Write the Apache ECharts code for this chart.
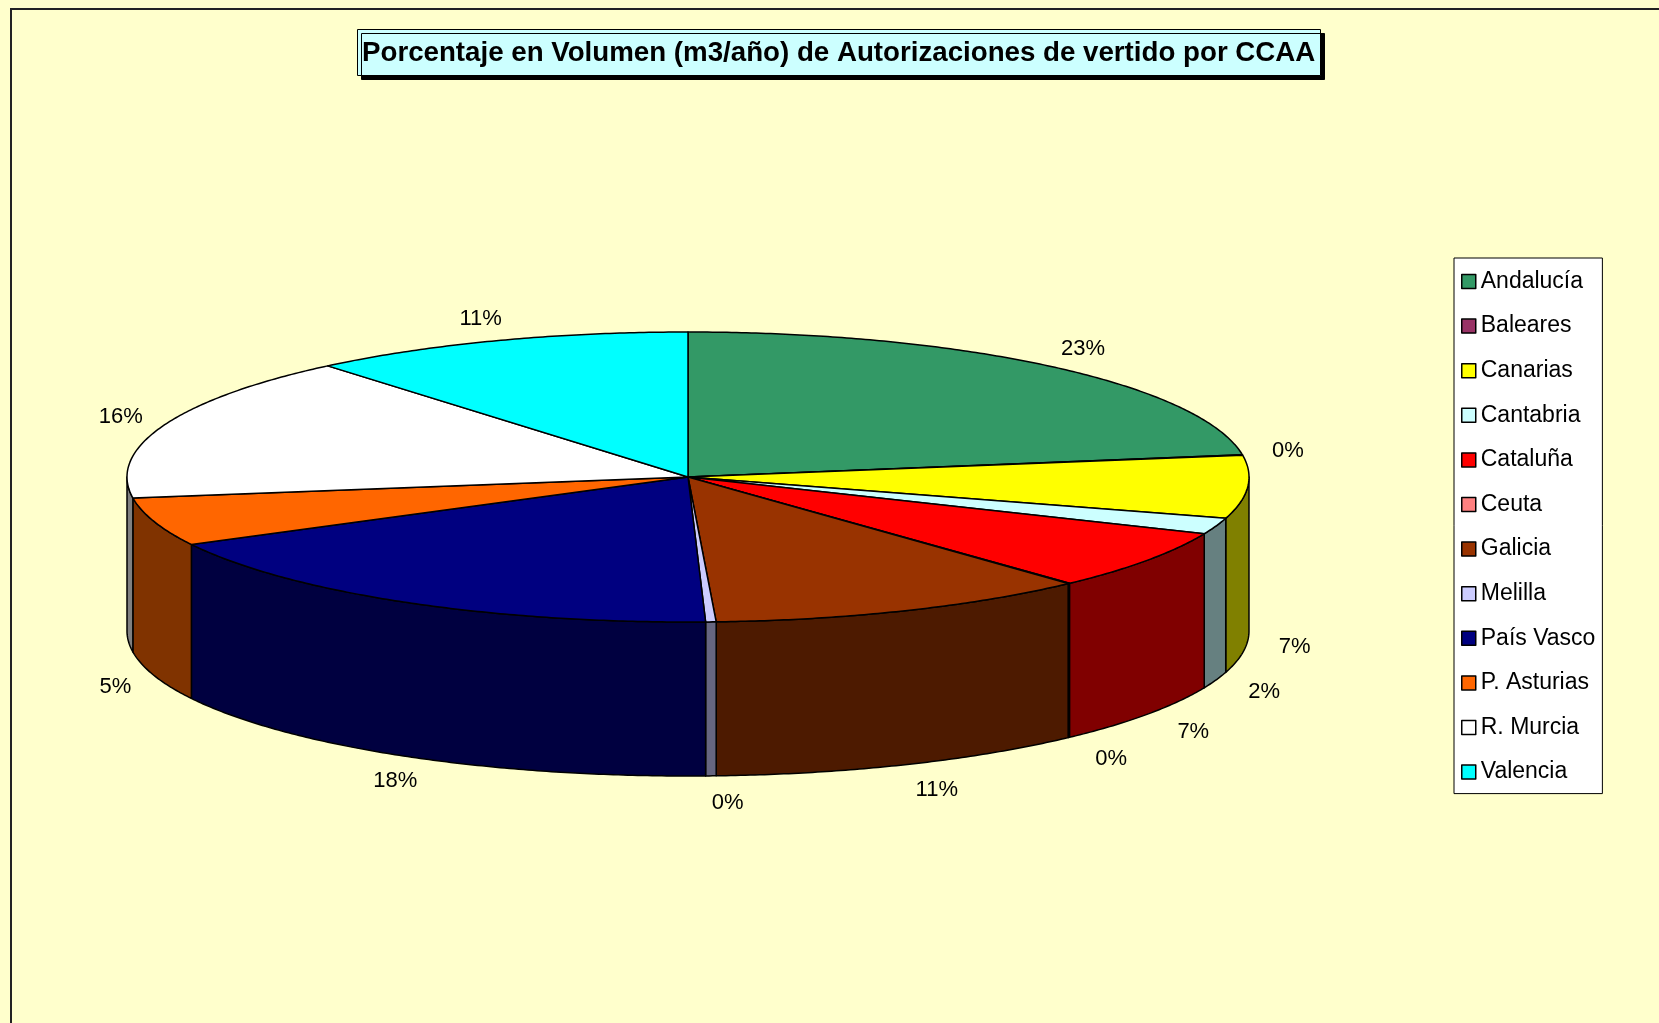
<!DOCTYPE html>
<html lang="es" style="height: 100%">
<head>
    <meta charset="utf-8">
    <title>Autorizaciones de vertido por CCAA</title>
    <script src="https://cdn.jsdelivr.net/npm/echarts@6/dist/echarts.min.js"></script>
</head>
<body style="height: 100%; margin: 0; background: #FFFFCC">
    <div id="main" style="width: 1659px; height: 1023px"></div>
    <script>
        // datos (porcentaje del volumen m3/año)
        const regiones = ['Andalucía', 'Baleares', 'Canarias', 'Cantabria', 'Cataluña', 'Ceuta',
            'Galicia', 'Melilla', 'País Vasco', 'P. Asturias', 'R. Murcia', 'Valencia'];
        const valores = [22.55, 0.05, 7.0, 1.8, 6.7, 0.05, 11.05, 0.3, 17.8, 5.4, 16.2, 11.1];
        const colores = ['#339966', '#993366', '#FFFF00', '#CCFFFF', '#FF0000', '#FF8080',
            '#993300', '#CCCCFF', '#000080', '#FF6600', '#FFFFFF', '#00FFFF'];

        const myChart = echarts.init(document.getElementById('main'));

        // geometria del pastel 3D
        const CX = 688, CY = 477, RX = 561, RY = 145, FONDO = 154;
        const total = valores.reduce((a, b) => a + b, 0);
        const inicio = [];
        let acum = 0;
        valores.forEach(v => { inicio.push(acum / total); acum += v; });

        function oscurecer(hex) {
            const n = parseInt(hex.slice(1), 16);
            const r = Math.round(((n >> 16) & 255) / 2);
            const g = Math.round(((n >> 8) & 255) / 2);
            const b = Math.round((n & 255) / 2);
            return 'rgb(' + r + ',' + g + ',' + b + ')';
        }
        function punto(ang, dz) {
            return [CX + RX * Math.sin(ang), CY - RY * Math.cos(ang) + dz];
        }
        function arco(a1, a2, dz) {
            const pts = [];
            const n = Math.max(2, Math.ceil((a2 - a1) / (Math.PI / 360)));
            for (let i = 0; i <= n; i++) pts.push(punto(a1 + (a2 - a1) * i / n, dz));
            return pts;
        }

        function renderItem(params, api) {
            const i = params.dataIndex;
            const v = api.value(0);
            const a1 = inicio[i] * Math.PI * 2;
            const a2 = a1 + v / total * Math.PI * 2;
            const hijos = [];
            // pared frontal visible
            const w1 = Math.max(a1, Math.PI / 2), w2 = Math.min(a2, Math.PI * 1.5);
            if (w2 > w1) {
                hijos.push({
                    type: 'polygon',
                    shape: { points: arco(w1, w2, 0).concat(arco(w1, w2, FONDO).reverse()) },
                    style: { fill: oscurecer(colores[i]), stroke: '#000', lineWidth: 1.5, lineJoin: 'round' }
                });
            }
            // tapa
            hijos.push({
                type: 'polygon',
                shape: { points: [[CX, CY]].concat(arco(a1, a2, 0)) },
                style: { fill: colores[i], stroke: '#000', lineWidth: 1.5, lineJoin: 'round' }
            });
            // etiqueta
            const mid = (a1 + a2) / 2;
            const s = Math.sin(mid), c = Math.cos(mid);
            hijos.push({
                type: 'text',
                style: {
                    text: Math.round(v / total * 100) + '%',
                    x: CX + (RX * 1.05 + 18) * s + (c < 0 ? -15 * c : 0),
                    y: CY - (RY * 1.1 + 9) * c + (c < 0 ? FONDO + 4 : 0),
                    align: 'center',
                    verticalAlign: 'middle',
                    fill: '#000',
                    font: '22px "Liberation Sans", Arial, sans-serif'
                }
            });
            return { type: 'group', children: hijos };
        }

        const option = {
            backgroundColor: '#FFFFCC',
            animation: false,
            title: {
                text: 'Porcentaje en Volumen (m3/año) de Autorizaciones de vertido por CCAA',
                left: 357,
                top: 29,
                padding: [10, 5, 9, 5],
                backgroundColor: '#CCFFFF',
                borderColor: '#000',
                borderWidth: 1,
                shadowColor: '#000',
                shadowBlur: 0,
                shadowOffsetX: 4,
                shadowOffsetY: 4,
                textStyle: {
                    fontFamily: '"Liberation Sans", Arial, sans-serif',
                    fontWeight: 'bold',
                    fontSize: 27.7,
                    color: '#000'
                }
            },
            legend: {
                orient: 'vertical',
                left: 1454,
                top: 258,
                padding: [12, 7, 10, 7],
                backgroundColor: '#FFFFFF',
                borderColor: '#000',
                borderWidth: 1,
                icon: 'rect',
                itemWidth: 14,
                itemHeight: 14,
                itemGap: 21.6,
                itemStyle: { borderColor: '#000', borderWidth: 1.5 },
                selectedMode: false,
                textStyle: {
                    fontFamily: '"Liberation Sans", Arial, sans-serif',
                    fontSize: 23,
                    color: '#000'
                },
                data: regiones
            },
            graphic: [{
                type: 'rect',
                shape: { x: 11, y: 9, width: 1700, height: 1100 },
                style: { fill: 'none', stroke: '#222', lineWidth: 2 },
                silent: true
            }],
            series: [{
                // solo para la leyenda
                type: 'pie',
                center: [-500, -500],
                radius: 5,
                silent: true,
                label: { show: false },
                labelLine: { show: false },
                data: regiones.map((n, i) => ({ name: n, value: valores[i], itemStyle: { color: colores[i] } }))
            }, {
                type: 'custom',
                coordinateSystem: 'none',
                silent: true,
                renderItem: renderItem,
                data: valores.map(v => [v])
            }]
        };

        myChart.setOption(option);
    </script>
</body>
</html>
